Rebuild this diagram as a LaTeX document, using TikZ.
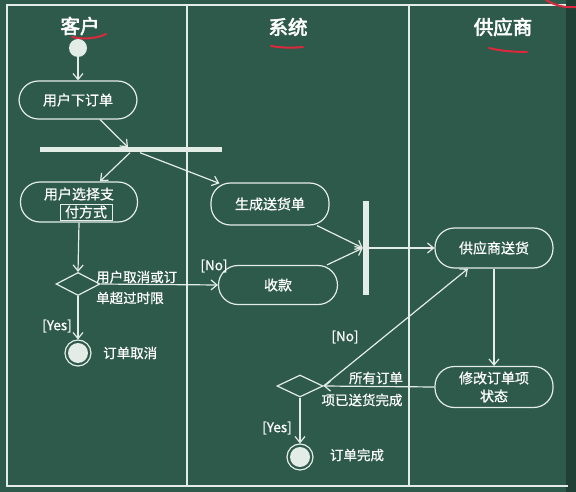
\documentclass[tikz,border=0pt]{standalone}
\usepackage{fontspec}
\setmainfont{Noto Sans CJK SC}[FakeBold=0.6]
\newfontfamily\titlefont{Noto Sans CJK SC}[FakeBold=3]
\usetikzlibrary{arrows.meta,calc,shapes.geometric}
\definecolor{board}{RGB}{46,90,75}
\definecolor{chalk}{RGB}{228,236,232}
\definecolor{redmark}{RGB}{220,40,60}
\begin{document}
\begin{tikzpicture}[x=1pt,y=-1pt,
  every node/.style={text=white,font=\fontsize{14}{17}\selectfont,inner sep=0pt},
  frameline/.style={draw=chalk,line width=1.4pt},
  act/.style={draw=chalk,line width=1.2pt,minimum width=118pt,minimum height=40pt,rounded corners=19.5pt,align=center},
  bar/.style={fill=chalk,draw=none},
  dec/.style={diamond,draw=chalk,line width=1.2pt,aspect=1.9,minimum width=44pt,minimum height=23pt},
  startnode/.style={circle,fill=chalk,minimum size=18pt},
  endnode/.style={circle,draw=chalk,line width=1.2pt,minimum size=26pt,path picture={\fill[chalk] (path picture bounding box.center) circle (10pt);}},
  arr/.style={draw=chalk,line width=1.2pt,-{Straight Barb[length=6pt,width=10pt,line width=1.2pt]}},
  title/.style={font=\titlefont\fontsize{19.5}{21}\selectfont},
  lbl/.style={font=\fontsize{13.5}{16}\selectfont},
  redline/.style={draw=redmark,line width=2pt,line cap=round}
]
\useasboundingbox (0,0) rectangle (576,492);
\fill[board] (0,0) rectangle (576,492);
\fill[board!70!black] (566,0) rectangle (576,492);
% frame and lanes
\draw[frameline] (566,5) -- (7,5) -- (7,486) -- (568,486);
\draw[frameline] (187,5) -- (187,486);
\draw[frameline] (409,5) -- (409,486);
% titles
\node[title] (tc) at (80,26) {客户};
\node[title] (ts) at (288,27) {系统};
\node[title] (tg) at (503,27) {供应商};
% red marks
\draw[redline] (72,37) .. controls (85,40) and (98,38) .. (106,34);
\draw[redline] (271,46) .. controls (282,48) and (294,48) .. (303,47);
\draw[redline] (489,48) .. controls (501,51) and (515,52) .. (527,52);
\draw[redline] (546,0) .. controls (556,6) and (566,8) .. (576,7);
% nodes
\node[startnode] (s) at (78,48) {};
\node[act,minimum height=38pt] (a1) at (78,100) {用户下订单};
\node[bar,minimum width=182pt,minimum height=5pt] (bar1) at (131,150) {};
\node[act,minimum width=117pt] (a2) at (79,202) {};
\node (a2t1) at (79,194) {用户选择支};
\node[draw=chalk,line width=0.9pt,inner xsep=5pt,inner ysep=1.5pt] (a2t2) at (86,212) {付方式};
\node[act,minimum height=42pt] (a3) at (270,204) {生成送货单};
\node[act,minimum width=119pt,minimum height=39pt] (a4) at (278,285) {收款};
\node[bar,minimum width=6pt,minimum height=93pt] (bar2) at (366,248) {};
\node[act] (a5) at (494,248) {供应商送货};
\node[act,minimum height=41pt,align=center,font=\fontsize{14}{18}\selectfont] (a6) at (494,387) {修改订单项\\状态};
\node[dec] (d1) at (78,284) {};
\node[dec,minimum width=46pt,minimum height=22pt] (d2) at (300,386) {};
\node[endnode] (e1) at (78,353) {};
\node[endnode] (e2) at (300,457) {};
% labels
\node[lbl,anchor=west] (l1a) at (96,277) {用户取消或订};
\node[lbl,anchor=west] (l1b) at (96,298) {单超过时限};
\node[lbl] (no1) at (214,266) {[No]};
\node[lbl] (yes1) at (57,326) {[Yes]};
\node[lbl,anchor=west] (t1) at (103,353) {订单取消};
\node[lbl] (l2a) at (376,378) {所有订单};
\node[lbl] (l2b) at (362,400) {项已送货完成};
\node[lbl] (no2) at (345,337) {[No]};
\node[lbl] (yes2) at (277,428) {[Yes]};
\node[lbl] (t2) at (357,455) {订单完成};
% connectors
\draw[arr] (s) -- (a1.north);
\draw[arr] ([xshift=22pt]a1.south) -- ([xshift=-3pt]bar1.north);
\draw[arr] ([xshift=-1pt]bar1.south) -- ([xshift=21pt]a2.north);
\draw[arr] ([xshift=9pt]bar1.south) -- ($(a3.north west)+(9,1)$);
\draw[arr] ([xshift=47pt]a3.south) -- (bar2.west);
\draw[arr] ([xshift=49pt]a4.north) -- (bar2.west);
\draw[arr] (bar2.east) -- (a5.west);
\draw[arr] (a2.south) -- (d1.north);
\draw[arr] (d1.east) -- (a4.west);
\draw[arr] (d1.south) -- (e1.north);
\draw[arr] (a5.south) -- (a6.north);
\draw[arr] (a6.west) -- (d2.east);
\draw[arr] (d2.east) -- ([xshift=-26pt]a5.south);
\draw[arr] (d2.south) -- (e2.north);
\end{tikzpicture}
\end{document}
